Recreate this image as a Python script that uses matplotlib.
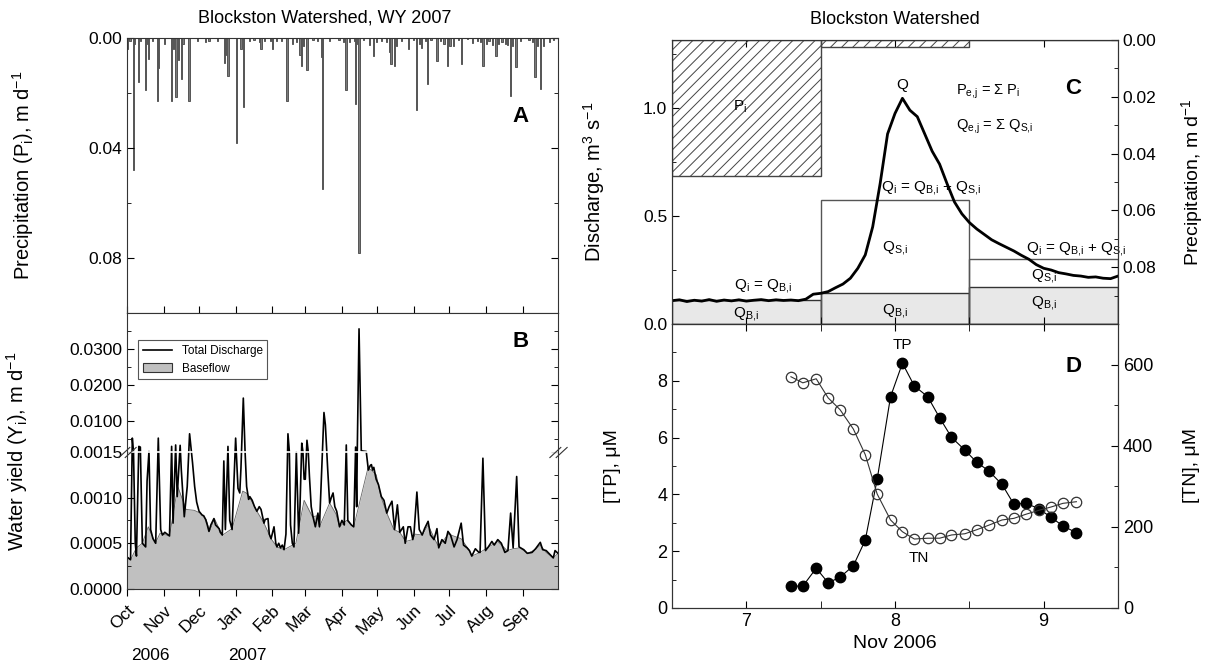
import numpy as np
import pandas as pd
import matplotlib
matplotlib.use("Agg")
import matplotlib.pyplot as plt
import matplotlib.dates as mdates
from matplotlib.lines import Line2D
from matplotlib.patches import Patch
from matplotlib.path import Path
from matplotlib.ticker import FixedLocator, FormatStrFormatter, NullFormatter

plt.rcParams["font.family"] = ["Liberation Sans", "DejaVu Sans"]
plt.rcParams["mathtext.default"] = "regular"
plt.rcParams["hatch.linewidth"] = 0.7
plt.rcParams["axes.edgecolor"] = "#333333"

# ---------------- data ----------------
# Panel A: daily precipitation, water year 2007 (day index from 1 Oct 2006, m/d)
rain_day = [0, 2, 5, 6, 9, 11, 15, 17, 18, 21, 25, 26, 31, 37, 39, 41, 43, 46, 47, 52,
            59, 66, 69, 76, 82, 83, 85, 92, 96, 98, 103, 107, 112, 113, 116,
            121, 123, 126, 130, 135, 140, 143, 146, 147, 149, 152, 157, 161, 164, 165,
            171, 179, 183, 185, 188, 192, 193, 194, 196, 200, 205, 208, 211, 215, 219,
            222, 223, 226, 228, 232, 238,
            242, 245, 247, 249, 252, 254, 257, 262, 265, 268, 271, 273, 276, 280, 283,
            288, 292, 296, 299, 301, 304, 306, 309, 312, 314, 317, 320, 322, 324, 326,
            329, 333, 340, 343, 345, 347, 350, 352, 357, 361]
rain_m = [0.004, 0.001, 0.048, 0.002, 0.016, 0.001, 0.019, 0.002, 0.0076, 0.001, 0.0228,
          0.011, 0.002, 0.023, 0.004, 0.0213, 0.008, 0.015, 0.002, 0.023,
          0.001, 0.0015, 0.001, 0.0012, 0.0092, 0.006, 0.0137, 0.038, 0.004, 0.025, 0.001,
          0.0008, 0.0015, 0.004, 0.0012,
          0.001, 0.004, 0.0012, 0.001, 0.023, 0.002, 0.0015, 0.006, 0.010, 0.003, 0.0117,
          0.0008, 0.001, 0.007, 0.055,
          0.001, 0.0008, 0.0015, 0.019, 0.0015, 0.001, 0.024, 0.002, 0.078, 0.0008, 0.0025,
          0.0064, 0.0015, 0.0012, 0.0015,
          0.005, 0.0095, 0.0103, 0.003, 0.001, 0.004,
          0.0008, 0.026, 0.002, 0.0035, 0.001, 0.0167, 0.0008, 0.0085, 0.001, 0.002, 0.010,
          0.003, 0.003, 0.0008, 0.0094,
          0.0005, 0.0018, 0.0012, 0.0015, 0.010, 0.002, 0.0012, 0.0025, 0.0065, 0.002,
          0.0015, 0.002, 0.0025, 0.021, 0.003,
          0.0104, 0.0012, 0.0008, 0.0015, 0.0143, 0.003, 0.0185, 0.003, 0.0015, 0.0008]

# Panel B: total discharge (day, m/d)
flow_day = [0, 3, 4.5, 5.5, 7, 8, 10, 11.3, 13, 15.8, 17, 18.6, 20, 22, 24.3, 26.5, 28.5,
            30, 32, 34, 36, 37.8, 39, 41.2, 42.5, 45, 46, 48.5, 51, 53, 55.5, 57.3, 59,
            61, 63.5, 65, 66.6, 68, 69.4, 71, 73.6, 75, 78, 79, 80.7, 82, 83.3, 85.5, 87,
            89, 92, 94, 95.5, 96.5, 98.5, 100, 101.3, 103, 104, 106, 108, 110, 112, 113.5,
            116, 117, 119.4, 120.5, 122, 124.5, 126, 127, 128.5, 130, 131.5, 133, 134.6,
            136.3, 137.5, 138.5, 140, 141.4, 143.4, 145.3, 146.5, 148, 149, 150, 151,
            152.4, 153.5, 154.5, 156, 157.5, 159.5, 161.7, 163, 165.5, 166.8, 168, 169,
            170, 171.6, 173, 174.5, 176, 177.6, 179, 180, 182, 184, 185.7, 187, 190, 192,
            193.6, 194.5, 195, 196.5, 198.4, 200, 202.6, 204.4, 206, 207, 208, 209, 211,
            213, 215.4, 217.6, 220, 222, 224.4, 226.6, 229, 231, 234, 235.6, 238, 240,
            242, 243, 245.5, 247.5, 250, 252, 255, 257, 260, 262.5, 264, 266.7, 269.5,
            271.8, 274, 277, 279.5, 283, 285, 288, 290, 292, 295, 298, 299, 301.4, 303.6,
            306, 309, 311, 314, 317, 320, 322.6, 324.9, 327, 330, 332, 336, 339, 343,
            346, 350, 352, 355, 358, 361, 362.5, 365]
flow_q = [0.00035, 0.00032, 0.0053, 0.0015, 0.0005, 0.00036, 0.0030, 0.0028, 0.0005,
          0.00046, 0.00118, 0.0016, 0.00065, 0.00055, 0.0005, 0.0053, 0.00065,
          0.00059, 0.00062, 0.0006, 0.00058, 0.0030, 0.00072, 0.0034, 0.00101, 0.0033,
          0.0013, 0.00079, 0.00112, 0.0065, 0.00138, 0.00112, 0.00095,
          0.00085, 0.00081, 0.0008, 0.00076, 0.0007, 0.00063, 0.0007, 0.00077, 0.0007,
          0.00066, 0.00062, 0.00059, 0.0014, 0.00065, 0.0030, 0.00075,
          0.00065, 0.0053, 0.0011, 0.00105, 0.00132, 0.0164, 0.0015, 0.00112, 0.00098,
          0.00101, 0.00097, 0.0009, 0.00085, 0.0009, 0.00087,
          0.00072, 0.00076, 0.00077, 0.0006, 0.00055, 0.00068, 0.0005, 0.00046, 0.0005,
          0.00045, 0.00048, 0.00043, 0.0006,
          0.0065, 0.0015, 0.0007, 0.0005, 0.00046, 0.0015, 0.00061, 0.0009, 0.0039,
          0.0015, 0.0012, 0.0012,
          0.0047, 0.0015, 0.00123, 0.0009, 0.00079, 0.00068, 0.00083, 0.00068, 0.0015,
          0.0124, 0.0090, 0.0025,
          0.0013, 0.00094, 0.001, 0.00105, 0.0009, 0.00085, 0.00075, 0.00068, 0.00075,
          0.0007, 0.0034, 0.00075, 0.0007, 0.00068,
          0.0028, 0.0009, 0.0015, 0.0356, 0.0018, 0.0017, 0.0016, 0.0013, 0.00135,
          0.00136, 0.0013, 0.00133, 0.0012,
          0.00114, 0.00101, 0.00097, 0.00083, 0.0009, 0.00096, 0.00065, 0.00092,
          0.00062, 0.00068, 0.0005, 0.00068, 0.00068,
          0.00054, 0.0006, 0.00106, 0.00065, 0.00059, 0.00066, 0.00074, 0.00059,
          0.00054, 0.00066, 0.00045, 0.00054, 0.0005,
          0.00063, 0.00059, 0.00046, 0.00054, 0.00072, 0.00048, 0.00045, 0.00042,
          0.00036, 0.00044, 0.0004, 0.0004, 0.00143, 0.00042,
          0.00046, 0.00052, 0.00048, 0.00054, 0.0005, 0.0004, 0.00042, 0.00083, 0.00045,
          0.00123, 0.00046, 0.00043, 0.00039, 0.0004,
          0.00044, 0.00051, 0.00043, 0.00042, 0.00038, 0.00034, 0.00042, 0.00039]

# Panel B: baseflow (day, m/d)
base_day = [0, 3, 8, 13, 18, 24, 28, 36, 43, 50, 57, 62, 67, 70, 74, 78, 81, 89, 98,
            101, 104, 110, 116, 122, 127, 133, 143, 150, 157, 161, 163, 171.6, 177, 180,
            186, 192, 204, 207, 211, 215, 220, 226, 231, 236, 242, 244, 250, 255, 260,
            264, 272, 283, 290, 292, 299, 305, 314, 322, 327, 333, 339, 346, 350, 355,
            361, 365]
base_q = [0.00035, 0.00032, 0.00045, 0.0005, 0.00068, 0.0005, 0.00061, 0.00058, 0.00112,
          0.00087, 0.00086, 0.00083, 0.00076, 0.00063, 0.00077, 0.00066, 0.00059,
          0.00066, 0.00107, 0.00105, 0.001, 0.00085, 0.00072, 0.00055, 0.00046, 0.00043,
          0.0005, 0.00097, 0.00079, 0.0008, 0.00068, 0.00094, 0.00082, 0.00068,
          0.00075, 0.00068, 0.00132, 0.0013, 0.00125, 0.00101, 0.00083, 0.00065,
          0.00062, 0.00052, 0.00054, 0.0006, 0.00059, 0.0007, 0.00056, 0.00046,
          0.0006, 0.00055, 0.00042, 0.00036, 0.0004, 0.00045, 0.00052, 0.00042,
          0.00044, 0.00045, 0.00039, 0.00043, 0.00048, 0.0004, 0.00034, 0.00039]

month_labels = ["Oct", "Nov", "Dec", "Jan", "Feb", "Mar", "Apr", "May", "Jun", "Jul",
                "Aug", "Sep"]

# Panel C: storm of 7-9 Nov 2006
q_start, q_step = 6.5, 0.05
q_flow = [0.108, 0.112, 0.104, 0.110, 0.106, 0.113, 0.105, 0.111, 0.107, 0.112,
          0.106, 0.110, 0.113, 0.108, 0.112, 0.109, 0.111, 0.108, 0.115, 0.138,
          0.142, 0.150, 0.168, 0.185, 0.212, 0.258, 0.320, 0.450, 0.650, 0.880,
          0.975, 1.045, 0.990, 0.960, 0.880, 0.800, 0.740, 0.650, 0.565, 0.510,
          0.470, 0.440, 0.415, 0.390, 0.372, 0.355, 0.338, 0.318, 0.300, 0.275,
          0.258, 0.250, 0.238, 0.232, 0.225, 0.222, 0.216, 0.218, 0.212, 0.210, 0.222]
day_start = [6.5, 7.5, 8.5]
q_base = [0.111, 0.143, 0.171]
q_total = [0.111, 0.574, 0.300]
p_event = [0.048, 0.0025, 0.0]

# Panel D: TP and TN concentrations
chem_day = [7.30, 7.38, 7.47, 7.55, 7.63, 7.72, 7.80, 7.88, 7.97, 8.05, 8.13, 8.22,
            8.30, 8.38, 8.47, 8.55, 8.63, 8.72, 8.80, 8.88, 8.97, 9.05, 9.13, 9.22]
tp = [0.77, 0.77, 1.40, 0.89, 1.08, 1.49, 2.39, 4.53, 7.44, 8.62, 7.82, 7.44,
      6.70, 6.01, 5.56, 5.13, 4.83, 4.35, 3.65, 3.69, 3.49, 3.19, 2.89, 2.65]
tn = [570, 555, 565, 518, 489, 441, 378, 281, 217, 188, 170, 172,
      172, 180, 183, 193, 204, 217, 221, 231, 241, 249, 258, 262]

# ---------------- figure ----------------
W, H = 1207, 666
fig = plt.figure(figsize=(W / 100, H / 100), dpi=100)


def box(l, t, r, b):
    return [l / W, 1 - b / H, (r - l) / W, (b - t) / H]


ax_a = fig.add_axes(box(127, 38, 558, 313))
ax_b = fig.add_axes(box(127, 313, 558, 589))
ax_c = fig.add_axes(box(672, 40, 1118, 324))
ax_d = fig.add_axes(box(672, 324, 1118, 608))

TICK = 12.5
LAB = 14.5
t0 = mdates.date2num(pd.Timestamp("2006-10-01"))
months = mdates.date2num(pd.date_range("2006-10-01", periods=12, freq="MS"))

# Panel A
ax_a.bar(t0 + np.array(rain_day) + 0.5, rain_m, width=1.0, color="#7a7a7a",
         edgecolor="#555555", linewidth=0.7)
ax_a.set_xlim(t0, t0 + 365)
ax_a.set_ylim(0.1, 0)
ax_a.yaxis.set_major_locator(FixedLocator([0, 0.04, 0.08]))
ax_a.yaxis.set_minor_locator(FixedLocator([0.02, 0.06, 0.1]))
ax_a.yaxis.set_major_formatter(FormatStrFormatter("%.2f"))
ax_a.set_xticks(months, labels=[""] * len(months))
ax_a.tick_params(axis="both", which="both", direction="in", right=True, labelsize=TICK)
ax_a.tick_params(which="major", length=5)
ax_a.tick_params(which="minor", length=3)
ax_a.set_ylabel("Precipitation (P$_i$), m d$^{-1}$", fontsize=LAB)
ax_a.yaxis.set_label_coords(-0.211, 0.5)
ax_a.text(0.912, 0.713, "A", transform=ax_a.transAxes, fontsize=16, fontweight="bold",
          ha="center", va="center")

# Panel B: broken linear axis (0-0.0015 below, 0.0015-0.04 above)
BRK = 0.0015


def fwd(y):
    y = np.asarray(y, dtype=float)
    return np.where(y <= BRK, y / BRK * 137.0, 137.0 + (y - BRK) / 0.01 * 36.0)


def inv(v):
    v = np.asarray(v, dtype=float)
    return np.where(v <= 137.0, v / 137.0 * BRK, BRK + (v - 137.0) / 36.0 * 0.01)


ax_b.set_yscale("function", functions=(fwd, inv))
ax_b.fill_between(t0 + np.array(base_day), base_q, color="#c0c0c0", linewidth=0)
ax_b.plot(t0 + np.array(base_day), base_q, color="#666666", lw=0.6)
ax_b.plot(t0 + np.array(flow_day), flow_q, color="black", lw=1.2)
ax_b.axhline(BRK, color="white", lw=1.2)
ax_b.set_xlim(t0, t0 + 365)
ax_b.set_ylim(0, 0.04)
ax_b.yaxis.set_major_locator(FixedLocator([0, 0.0005, 0.001, 0.0015, 0.01, 0.02, 0.03]))
ax_b.yaxis.set_minor_locator(FixedLocator([0.00025, 0.00075, 0.00125, 0.005, 0.015,
                                           0.025, 0.035]))
ax_b.yaxis.set_major_formatter(FormatStrFormatter("%.4f"))
ax_b.yaxis.set_minor_formatter(NullFormatter())
ax_b.set_xticks(months, labels=month_labels, rotation=45, ha="right",
                rotation_mode="anchor")
ax_b.tick_params(axis="y", which="both", direction="in", right=True, labelsize=TICK)
ax_b.tick_params(axis="x", direction="out", labelsize=TICK, length=5, pad=5)
ax_b.tick_params(axis="y", which="major", length=5)
ax_b.tick_params(axis="y", which="minor", length=3)
ax_b.set_ylabel("Water yield (Y$_i$), m d$^{-1}$", fontsize=LAB)
ax_b.yaxis.set_label_coords(-0.225, 0.5)
ax_b.text(0.912, 0.895, "B", transform=ax_b.transAxes, fontsize=16, fontweight="bold",
          ha="center", va="center")
brk_mark = Path([(-1.0, -0.6), (0.3, 0.6), (-0.3, -0.6), (1.0, 0.6)],
                [Path.MOVETO, Path.LINETO, Path.MOVETO, Path.LINETO])
ax_b.plot([0, 1], [BRK, BRK], transform=ax_b.get_yaxis_transform(), linestyle="none",
          marker=brk_mark, markersize=13, mfc="none", mec="#333333", mew=0.8,
          clip_on=False)
leg = ax_b.legend(handles=[Line2D([], [], color="black", lw=1.2),
                           Patch(facecolor="#c0c0c0", edgecolor="#333333", lw=0.8)],
                  labels=["Total Discharge", "Baseflow"], loc="upper left",
                  bbox_to_anchor=(0.0255, 0.902), borderaxespad=0, fontsize=8.5,
                  fancybox=False, edgecolor="#555555", framealpha=1, handlelength=2.5)
leg.get_frame().set_linewidth(0.8)

fig.text(150 / W, 1 - 655 / H, "2006", ha="center", va="center", fontsize=TICK)
fig.text(247 / W, 1 - 655 / H, "2007", ha="center", va="center", fontsize=TICK)
fig.text(325 / W, 1 - 18 / H, "Blockston Watershed, WY 2007", ha="center", va="center",
         fontsize=13)

# Panel C
ax_c.bar(day_start, q_base, width=1.0, align="edge", color="#e8e8e8",
         edgecolor="#333333", lw=1)
ax_c.bar(day_start[1:], q_total[1:], width=1.0, align="edge", fill=False,
         edgecolor="#555555", lw=1)
ax_c.plot(q_start + q_step * np.arange(len(q_flow)), q_flow, color="black", lw=2)
ax_c.set_xlim(6.5, 9.5)
ax_c.set_ylim(0, 1.315)
ax_c.yaxis.set_major_locator(FixedLocator([0, 0.5, 1.0]))
ax_c.yaxis.set_minor_locator(FixedLocator([0.25, 0.75, 1.25]))
ax_c.yaxis.set_major_formatter(FormatStrFormatter("%.1f"))
ax_c.xaxis.set_major_locator(FixedLocator([7, 8, 9]))
ax_c.xaxis.set_minor_locator(FixedLocator([7.5, 8.5]))
ax_c.tick_params(axis="both", which="both", direction="in", top=True, labelsize=TICK)
ax_c.tick_params(axis="x", which="both", labelbottom=False, length=5)
ax_c.tick_params(axis="y", which="major", length=5)
ax_c.tick_params(axis="y", which="minor", length=3)
ax_c.set_ylabel("Discharge, m$^3$ s$^{-1}$", fontsize=LAB)
ax_c.yaxis.set_label_coords(-0.146, 0.5)

ax_c2 = ax_c.twinx()
ax_c2.bar(day_start, p_event, width=1.0, align="edge", fill=False, hatch="///",
          edgecolor="#444444", lw=1)
ax_c2.set_ylim(0.1, 0)
ax_c2.yaxis.set_major_locator(FixedLocator([0, 0.02, 0.04, 0.06, 0.08]))
ax_c2.yaxis.set_minor_locator(FixedLocator([0.01, 0.03, 0.05, 0.07, 0.09]))
ax_c2.yaxis.set_major_formatter(FormatStrFormatter("%.2f"))
ax_c2.tick_params(axis="y", which="both", direction="in", labelsize=TICK)
ax_c2.tick_params(axis="y", which="major", length=5)
ax_c2.tick_params(axis="y", which="minor", length=3)
ax_c2.set_ylabel("Precipitation, m d$^{-1}$", fontsize=14)
ax_c2.yaxis.set_label_coords(1.138, 0.5)
ax_c2.text(6.96, 0.0236, "P$_i$", fontsize=11, ha="center", va="center")

fs = 11
ax_c.text(8.05, 1.106, "Q", fontsize=fs, ha="center", va="center")
ax_c.text(8.41, 1.075, "P$_{e{,}j}$ = \u03a3 P$_i$", fontsize=fs - 0.5, ha="left",
          va="center")
ax_c.text(8.41, 0.912, "Q$_{e{,}j}$ = \u03a3 Q$_{S{,}i}$", fontsize=fs - 0.5, ha="left",
          va="center")
ax_c.text(8.24, 0.63, "Q$_i$ = Q$_{B{,}i}$ + Q$_{S{,}i}$", fontsize=fs, ha="center",
          va="center")
ax_c.text(8.0, 0.353, "Q$_{S{,}i}$", fontsize=fs, ha="center", va="center")
ax_c.text(8.0, 0.06, "Q$_{B{,}i}$", fontsize=fs, ha="center", va="center")
ax_c.text(9.22, 0.347, "Q$_i$ = Q$_{B{,}i}$ + Q$_{S{,}i}$", fontsize=fs, ha="center",
          va="center")
ax_c.text(9.0, 0.222, "Q$_{S{,}i}$", fontsize=fs, ha="center", va="center")
ax_c.text(9.0, 0.099, "Q$_{B{,}i}$", fontsize=fs, ha="center", va="center")
ax_c.text(7.11, 0.176, "Q$_i$ = Q$_{B{,}i}$", fontsize=fs, ha="center", va="center")
ax_c.text(7.0, 0.046, "Q$_{B{,}i}$", fontsize=fs, ha="center", va="center")
ax_c.text(9.2, 1.09, "C", fontsize=16, fontweight="bold", ha="center", va="center")
fig.text(895 / W, 1 - 20 / H, "Blockston Watershed", ha="center", va="center",
         fontsize=13)

# Panel D
ax_d.plot(chem_day, tp, "-o", color="black", lw=0.8, ms=7.5, mfc="black")
ax_d.set_xlim(6.5, 9.5)
ax_d.set_ylim(0, 10)
ax_d.yaxis.set_major_locator(FixedLocator([0, 2, 4, 6, 8]))
ax_d.yaxis.set_minor_locator(FixedLocator([1, 3, 5, 7, 9]))
ax_d.xaxis.set_major_locator(FixedLocator([7, 8, 9]))
ax_d.xaxis.set_minor_locator(FixedLocator([7.5, 8.5]))
ax_d.tick_params(axis="both", which="both", direction="in", top=True, labelsize=TICK + 0.5)
ax_d.tick_params(axis="x", which="both", length=5)
ax_d.tick_params(axis="y", which="major", length=5)
ax_d.tick_params(axis="y", which="minor", length=3)
ax_d.set_ylabel("[TP], \u03bcM", fontsize=14)
ax_d.yaxis.set_label_coords(-0.114, 0.5)
ax_d.set_xlabel("Nov 2006", fontsize=14)
ax_d.text(8.05, 9.26, "TP", fontsize=fs, ha="center", va="center")
ax_d.text(8.16, 1.76, "TN", fontsize=fs, ha="center", va="center")
ax_d.text(9.2, 8.5, "D", fontsize=16, fontweight="bold", ha="center", va="center")

ax_d2 = ax_d.twinx()
ax_d2.plot(chem_day, tn, "-o", color="#333333", lw=0.8, ms=7.5, mfc="none", mew=0.9)
ax_d2.set_ylim(0, 700)
ax_d2.yaxis.set_major_locator(FixedLocator([0, 200, 400, 600]))
ax_d2.yaxis.set_minor_locator(FixedLocator([100, 300, 500, 700]))
ax_d2.tick_params(axis="y", which="both", direction="in", labelsize=TICK + 0.5)
ax_d2.tick_params(axis="y", which="major", length=5)
ax_d2.tick_params(axis="y", which="minor", length=3)
ax_d2.set_ylabel("[TN], \u03bcM", fontsize=14)
ax_d2.yaxis.set_label_coords(1.145, 0.5)

fig.savefig("out.png", dpi=100)
